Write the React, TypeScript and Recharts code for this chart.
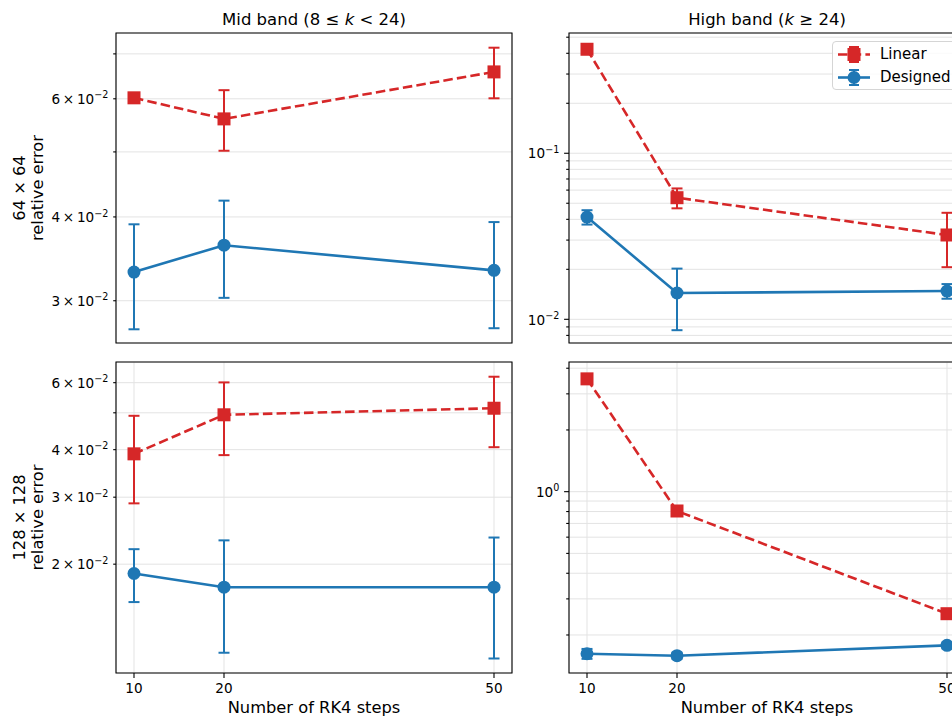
import React from "react";
import {
  LineChart,
  Line,
  XAxis,
  YAxis,
  CartesianGrid,
  ErrorBar,
  ReferenceArea,
  Legend,
} from "recharts";

const RED = "#d62728";
const BLUE = "#1f77b4";
const GRID = "#e3e3e3";
const FONT = "'DejaVu Sans', sans-serif";

const steps = [10, 20, 50];

// 64 x 64
const linearMid64 = [0.0602, 0.056, 0.0658];
const linearMid64Err = [0.001, 0.0058, 0.0057];
const designedMid64 = [0.0331, 0.0363, 0.0333];
const designedMid64Err = [0.0059, 0.006, 0.006];

const linearHigh64 = [0.423, 0.054, 0.0322];
const linearHigh64Err = [0.012, 0.0074, 0.0116];
const designedHigh64 = [0.0413, 0.0144, 0.0148];
const designedHigh64Err = [0.0041, 0.0058, 0.0015];

// 128 x 128
const linearMid128 = [0.039, 0.0494, 0.0514];
const linearMid128Err = [0.0101, 0.0107, 0.0108];
const designedMid128 = [0.0189, 0.0174, 0.0174];
const designedMid128Err = [0.003, 0.0057, 0.0061];

const linearHigh128 = [3.55, 0.805, 0.254];
const linearHigh128Err = [0.11, 0.03, 0.01];
const designedHigh128 = [0.162, 0.1585, 0.178];
const designedHigh128Err = [0.009, 0.0055, 0.006];

// y limits, as matplotlib autoscaled them
const mid64Range = [0.02595, 0.0752];
const high64Range = [0.0072, 0.53];
const mid128Range = [0.01035, 0.068];
const high128Range = [0.1305, 4.29];

// log ticks (every one gets a grid line), and the ones with a label
const mid64Ticks = [0.03, 0.04, 0.05, 0.06, 0.07];
const mid64Labeled = [0.03, 0.04, 0.06];
const high64Ticks = [
  0.008, 0.009, 0.01, 0.02, 0.03, 0.04, 0.05, 0.06, 0.07, 0.08, 0.09, 0.1,
  0.2, 0.3, 0.4, 0.5,
];
const high64Labeled = [0.01, 0.1];
const mid128Ticks = [0.02, 0.03, 0.04, 0.05, 0.06];
const mid128Labeled = [0.02, 0.03, 0.04, 0.06];
const high128Ticks = [0.2, 0.3, 0.4, 0.5, 0.6, 0.7, 0.8, 0.9, 1, 2, 3, 4];
const high128Labeled = [1];

function LogTick(props: any) {
  const { x, y, payload, labeled } = props;
  const v = payload.value;
  const e = Math.floor(Math.log10(v) + 1e-9);
  const m = Math.round(v / Math.pow(10, e));
  const major = m === 1;
  const len = major ? 4.9 : 2.8;
  const show = labeled.some((l: number) => Math.abs(l - v) < 1e-12);
  const exp = e < 0 ? "\u2212" + -e : String(e);
  return (
    <g>
      <line x1={x - len} x2={x} y1={y} y2={y} stroke="#000" strokeWidth={1.1} />
      {show && (
        <text
          x={x - len - 4.8}
          y={y}
          dy={5.2}
          textAnchor="end"
          fontSize={13.6}
          fill="#000"
        >
          <tspan>{major ? "10" : `${m}\u2009×\u200910`}</tspan>
          <tspan dy={-5.6} fontSize={9.6}>
            {exp}
          </tspan>
        </text>
      )}
    </g>
  );
}

const squareDot = (p: any) => (
  <rect
    key={`s${p.index}`}
    x={p.cx - 6.5}
    y={p.cy - 6.5}
    width={13}
    height={13}
    fill={RED}
  />
);

const circleDot = (p: any) => (
  <circle key={`c${p.index}`} cx={p.cx} cy={p.cy} r={6.5} fill={BLUE} />
);

function LegendBox() {
  const rows = [
    { name: "Linear", color: RED, dash: "9.5 4.2", square: true },
    { name: "Designed", color: BLUE, dash: undefined, square: false },
  ];
  return (
    <div
      style={{
        width: 130,
        padding: "0.5px 0",
        border: "1px solid #d5d5d5",
        borderRadius: 4,
        background: "rgba(255,255,255,0.8)",
        fontFamily: FONT,
        fontSize: 15,
        color: "#000",
      }}
    >
      {rows.map((r) => (
        <div
          key={r.name}
          style={{ display: "flex", alignItems: "center", height: 23 }}
        >
          <svg width={47} height={23}>
            <line
              x1={5}
              x2={37}
              y1={11.5}
              y2={11.5}
              stroke={r.color}
              strokeWidth={2.6}
              strokeDasharray={r.dash}
            />
            <line x1={21} x2={21} y1={4} y2={19} stroke={r.color} strokeWidth={2} />
            <line x1={16} x2={26} y1={4} y2={4} stroke={r.color} strokeWidth={2} />
            <line x1={16} x2={26} y1={19} y2={19} stroke={r.color} strokeWidth={2} />
            {r.square ? (
              <rect x={14.5} y={5} width={13} height={13} fill={r.color} />
            ) : (
              <circle cx={21} cy={11.5} r={6.5} fill={r.color} />
            )}
          </svg>
          <span>{r.name}</span>
        </div>
      ))}
    </div>
  );
}

type PanelProps = {
  left: number;
  top: number;
  height: number;
  plotTop: number;
  xHeight: number;
  bottomRow: boolean;
  linear: number[];
  linearErr: number[];
  designed: number[];
  designedErr: number[];
  range: number[];
  ticks: number[];
  labeled: number[];
  legend?: boolean;
};

function Panel(p: PanelProps) {
  const data = steps.map((s, i) => ({
    steps: s,
    linear: p.linear[i],
    linearErr: p.linearErr[i],
    designed: p.designed[i],
    designedErr: p.designedErr[i],
  }));
  return (
    <div style={{ position: "absolute", left: p.left, top: p.top }}>
      <LineChart
        width={530}
        height={p.height}
        data={data}
        margin={{ top: p.plotTop, right: 18, bottom: 0, left: 0 }}
      >
        <CartesianGrid stroke={GRID} strokeWidth={1} />
        <XAxis
          dataKey="steps"
          type="number"
          domain={[8, 52]}
          ticks={steps}
          interval={0}
          height={p.xHeight}
          axisLine={false}
          tickSize={4.9}
          tickMargin={5}
          tickLine={{ stroke: "#000", strokeWidth: 1.1 }}
          tick={p.bottomRow ? { fill: "#000", fontSize: 13.6 } : false}
          label={
            p.bottomRow
              ? {
                  value: "Number of RK4 steps",
                  position: "insideBottom",
                  offset: 4.3,
                  fill: "#000",
                  fontSize: 16.3,
                }
              : undefined
          }
        />
        <YAxis
          type="number"
          scale="log"
          domain={p.range}
          allowDataOverflow
          ticks={p.ticks}
          interval={0}
          width={116}
          axisLine={false}
          tickLine={false}
          tickSize={0}
          tickMargin={0}
          tick={(t: any) => <LogTick {...t} labeled={p.labeled} />}
        />
        <ReferenceArea
          x1={8}
          x2={52}
          y1={p.range[0]}
          y2={p.range[1]}
          fill="none"
          stroke="#000"
          strokeWidth={1.1}
        />
        <Line
          dataKey="linear"
          name="Linear"
          stroke={RED}
          strokeWidth={2.6}
          strokeDasharray="9.5 4.2"
          dot={squareDot}
          activeDot={false}
          isAnimationActive={false}
        >
          <ErrorBar
            dataKey="linearErr"
            direction="y"
            width={5.5}
            stroke={RED}
            strokeWidth={2}
            isAnimationActive={false}
          />
        </Line>
        <Line
          dataKey="designed"
          name="Designed"
          stroke={BLUE}
          strokeWidth={2.6}
          dot={circleDot}
          activeDot={false}
          isAnimationActive={false}
        >
          <ErrorBar
            dataKey="designedErr"
            direction="y"
            width={5.5}
            stroke={BLUE}
            strokeWidth={2}
            isAnimationActive={false}
          />
        </Line>
        {p.legend && (
          <Legend
            layout="vertical"
            verticalAlign="middle"
            align="center"
            wrapperStyle={{ left: 379, top: 41, width: "auto", height: "auto" }}
            content={() => <LegendBox />}
          />
        )}
      </LineChart>
    </div>
  );
}

export default function App() {
  return (
    <div
      style={{
        position: "absolute",
        left: 0,
        top: 0,
        width: 952,
        height: 717,
        overflow: "hidden",
        background: "#fff",
        fontFamily: FONT,
      }}
    >
      <svg
        width={952}
        height={717}
        style={{ position: "absolute", left: 0, top: 0 }}
        fontFamily={FONT}
        fill="#000"
      >
        <text x={314} y={25} textAnchor="middle" fontSize={16.5}>
          Mid band (8 ≤ <tspan fontStyle="italic">k</tspan> &lt; 24)
        </text>
        <text x={767} y={25} textAnchor="middle" fontSize={16.5}>
          High band (<tspan fontStyle="italic">k</tspan> ≥ 24)
        </text>
        <g transform="translate(25 188) rotate(-90)">
          <text textAnchor="middle" fontSize={16.3}>
            64 × 64
          </text>
          <text y={18.3} textAnchor="middle" fontSize={16.3}>
            relative error
          </text>
        </g>
        <g transform="translate(25 517.5) rotate(-90)">
          <text textAnchor="middle" fontSize={16.3}>
            128 × 128
          </text>
          <text y={18.3} textAnchor="middle" fontSize={16.3}>
            relative error
          </text>
        </g>
      </svg>

      <Panel
        left={0}
        top={0}
        height={360}
        plotTop={33}
        xHeight={17}
        bottomRow={false}
        linear={linearMid64}
        linearErr={linearMid64Err}
        designed={designedMid64}
        designedErr={designedMid64Err}
        range={mid64Range}
        ticks={mid64Ticks}
        labeled={mid64Labeled}
      />
      <Panel
        left={453}
        top={0}
        height={360}
        plotTop={33}
        xHeight={17}
        bottomRow={false}
        linear={linearHigh64}
        linearErr={linearHigh64Err}
        designed={designedHigh64}
        designedErr={designedHigh64Err}
        range={high64Range}
        ticks={high64Ticks}
        labeled={high64Labeled}
        legend
      />
      <Panel
        left={0}
        top={355}
        height={362}
        plotTop={7}
        xHeight={44}
        bottomRow
        linear={linearMid128}
        linearErr={linearMid128Err}
        designed={designedMid128}
        designedErr={designedMid128Err}
        range={mid128Range}
        ticks={mid128Ticks}
        labeled={mid128Labeled}
      />
      <Panel
        left={453}
        top={355}
        height={362}
        plotTop={7}
        xHeight={44}
        bottomRow
        linear={linearHigh128}
        linearErr={linearHigh128Err}
        designed={designedHigh128}
        designedErr={designedHigh128Err}
        range={high128Range}
        ticks={high128Ticks}
        labeled={high128Labeled}
      />
    </div>
  );
}
